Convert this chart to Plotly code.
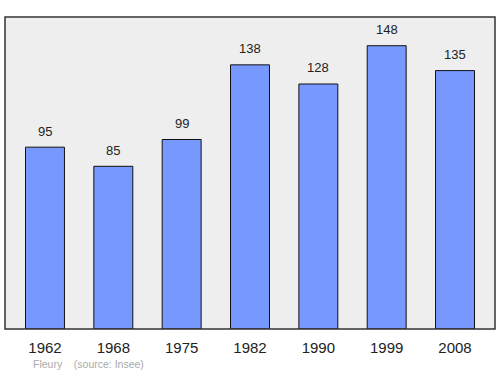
import plotly.graph_objects as go

years = ["1962", "1968", "1975", "1982", "1990", "1999", "2008"]
population = [95, 85, 99, 138, 128, 148, 135]
positions = list(range(len(years)))

font_family = "Liberation Sans, Arial, sans-serif"

fig = go.Figure()
fig.add_trace(go.Bar(
    x=positions, y=population, width=0.57,
    marker=dict(color="#7799ff", line=dict(color="#111111", width=1)),
    cliponaxis=False,
))

annotations = [dict(x=p, y=v, text=str(v), xref="x", yref="y", showarrow=False,
                    yanchor="middle", yshift=16,
                    font=dict(family=font_family, size=13, color="#222222"))
               for p, v in zip(positions, population)]
annotations.append(dict(text="Fleury&nbsp;&nbsp;&nbsp;&nbsp;(source: Insee)", xref="paper", yref="paper",
                        x=0.053, y=-0.112, xanchor="left", yanchor="middle", showarrow=False,
                        font=dict(family=font_family, size=10.5, color="#aaaaaa")))

fig.update_layout(
    width=500, height=374,
    margin=dict(l=5, r=5, t=17, b=45),
    paper_bgcolor="white", plot_bgcolor="#eeeeee",
    showlegend=False,
    xaxis=dict(range=[-0.585, 6.585], tickvals=positions, ticktext=years,
               showgrid=False, zeroline=False, ticks="", showline=False,
               ticklabelstandoff=8,
               tickfont=dict(family=font_family, size=15, color="#222222")),
    yaxis=dict(range=[0, 163], visible=False, showgrid=False, zeroline=False),
    shapes=[dict(type="rect", xref="paper", yref="paper", x0=0, y0=0, x1=1, y1=1,
                 line=dict(color="#333333", width=1.5), layer="above")],
    annotations=annotations,
)

fig.write_html("out.html")
